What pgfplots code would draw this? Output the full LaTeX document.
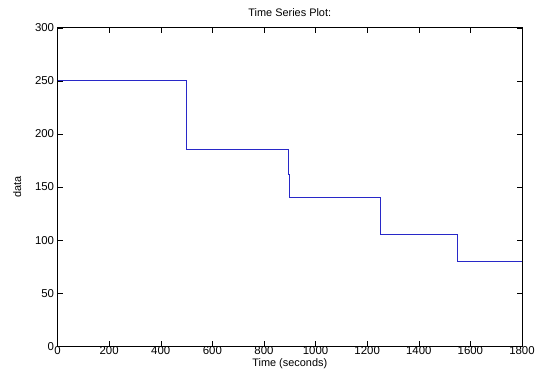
\documentclass[border=0pt]{standalone}
\usepackage{pgfplots}
\pgfplotsset{compat=1.18}
\usepackage{fontspec}
\setmainfont{Liberation Sans}
\begin{document}
\begin{tikzpicture}
\begin{axis}[
  scale only axis,
  width=468pt, height=321pt,
  xmin=0, xmax=1800, ymin=0, ymax=300,
  xtick={0,200,...,1800}, ytick={0,50,...,300},
  tick align=inside,
  major tick length=5pt,
  tick style={black, line width=0.5pt},
  axis line style={black, line width=0.6pt},
  /pgf/number format/assume math mode=true,
  /pgf/number format/1000 sep={},
  ticklabel style={font=\fontsize{11.5}{13}\selectfont},
  xticklabel style={yshift=3pt},
  label style={font=\fontsize{11}{12}\selectfont},
  title style={font=\fontsize{11}{12}\selectfont, yshift=2pt},
  title={Time Series Plot:},
  xlabel={Time (seconds)},
  ylabel={data},
  xlabel style={yshift=3pt},
  ylabel style={yshift=7pt},
]
\addplot[color={rgb,255:red,40;green,40;blue,200}, line width=0.8pt] coordinates {
 (0,250) (500,250) (500,185) (893,185) (893,162) (900,162) (900,140)
 (1250,140) (1250,105) (1550,105) (1550,80) (1800,80)
};
\end{axis}
\path (current axis.south west) ++(-58pt,-27pt);
\path (current axis.north east) ++(12pt,28pt);
\end{tikzpicture}
\end{document}
